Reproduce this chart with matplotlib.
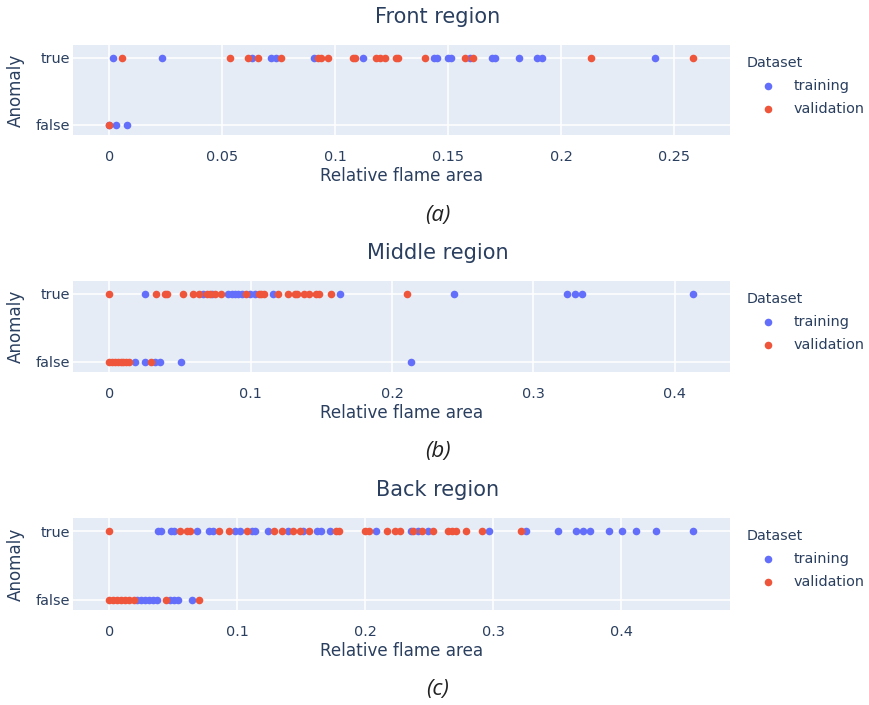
import numpy as np
import matplotlib.pyplot as plt
from matplotlib.ticker import FuncFormatter

plt.rcParams['font.family'] = ['DejaVu Sans']

# Front region (a)
a_train_true = [0.0015, 0.0232, 0.063, 0.0715, 0.0736, 0.0904, 0.1121, 0.1438, 0.1451, 0.15,
                0.1512, 0.1596, 0.1692, 0.1707, 0.1814, 0.1891, 0.1913, 0.2416]
a_train_false = [0.0, 0.003, 0.0077]
a_val_true = [0.0058, 0.0535, 0.0615, 0.066, 0.076, 0.0925, 0.0935, 0.097, 0.1077, 0.1087,
              0.1179, 0.1198, 0.122, 0.1269, 0.1279, 0.1396, 0.1574, 0.1608, 0.2133, 0.2584]
a_val_false = [0.0]

# Middle region (b)
b_train_true = [0.0252, 0.0665, 0.0724, 0.0841, 0.0865, 0.0888, 0.0912, 0.0936, 0.0994, 0.103,
                0.1159, 0.1633, 0.2436, 0.324, 0.3291, 0.3343, 0.4127]
b_train_false = [0.018, 0.0252, 0.0323, 0.0358, 0.0507, 0.2134]
b_val_true = [0.0, 0.0332, 0.0394, 0.0408, 0.0521, 0.059, 0.0634, 0.0689, 0.0712, 0.075,
              0.0787, 0.0966, 0.1058, 0.1072, 0.1095, 0.119, 0.1265, 0.1315, 0.1329, 0.1374,
              0.1409, 0.1461, 0.1484, 0.1565, 0.2102]
b_val_false = [0.0, 0.002, 0.004, 0.006, 0.008, 0.010, 0.012, 0.014, 0.0295]

# Back region (c)
c_train_true = [0.0378, 0.0401, 0.048, 0.0505, 0.0688, 0.0781, 0.0813, 0.0982, 0.1021, 0.1113,
                0.1138, 0.1242, 0.1398, 0.1516, 0.162, 0.1652, 0.1724, 0.2084, 0.2355, 0.2414,
                0.2492, 0.2966, 0.3253, 0.3508, 0.3646, 0.3703, 0.3755, 0.3901, 0.4005, 0.4112,
                0.4268, 0.4562]
c_train_false = [0.0214, 0.025, 0.028, 0.031, 0.034, 0.037, 0.0474, 0.0508, 0.0539, 0.0643]
c_val_true = [0.0, 0.0552, 0.0609, 0.063, 0.0854, 0.0938, 0.1073, 0.1287, 0.1352, 0.1432,
              0.149, 0.1563, 0.1769, 0.1795, 0.1998, 0.2029, 0.2167, 0.2232, 0.2271, 0.2375,
              0.2441, 0.2527, 0.2648, 0.2675, 0.2706, 0.2787, 0.2909, 0.3214]
c_val_false = [0.0, 0.003, 0.006, 0.009, 0.012, 0.015, 0.019, 0.044, 0.07]

titles = ['Front region', 'Middle region', 'Back region']
captions = ['(a)', '(b)', '(c)']
xlims = [(-0.016, 0.2746), (-0.0257, 0.439), (-0.0284, 0.485)]
xticks = [[0, 0.05, 0.1, 0.15, 0.2, 0.25], [0, 0.1, 0.2, 0.3, 0.4], [0, 0.1, 0.2, 0.3, 0.4]]
panels = [
    (a_train_true, a_train_false, a_val_true, a_val_false),
    (b_train_true, b_train_false, b_val_true, b_val_false),
    (c_train_true, c_train_false, c_val_true, c_val_false),
]

blue = '#636EFA'
red = '#EF553B'
txt = '#2a3f5f'

W, H = 870, 705
fig = plt.figure(figsize=(W / 100, H / 100), dpi=100)

# plot area pixel boxes (top, bottom)
boxes = [(45, 135), (281, 372), (518, 610)]
left_px, right_px = 73, 730
ms = 30

for i, (tt, tf, vt, vf) in enumerate(panels):
    top, bot = boxes[i]
    ax = fig.add_axes([left_px / W, 1 - bot / H, (right_px - left_px) / W, (bot - top) / H])
    ax.set_facecolor('#E5ECF6')
    for s in ax.spines.values():
        s.set_visible(False)
    ax.scatter(tt, np.ones(len(tt)), s=ms, color=blue, label='training', zorder=3, linewidths=0)
    ax.scatter(tf, np.zeros(len(tf)), s=ms, color=blue, zorder=3, linewidths=0)
    ax.scatter(vt, np.ones(len(vt)), s=ms, color=red, label='validation', zorder=4, linewidths=0)
    ax.scatter(vf, np.zeros(len(vf)), s=ms, color=red, zorder=4, linewidths=0)
    ax.set_xlim(*xlims[i])
    ax.set_ylim(-0.15, 1.19)
    ax.set_xticks(xticks[i])
    ax.xaxis.set_major_formatter(FuncFormatter(lambda v, p: '%g' % v))
    ax.set_yticks([0, 1])
    ax.set_yticklabels(['false', 'true'])
    ax.tick_params(length=0, labelsize=10.4, labelcolor=txt)
    ax.tick_params(axis='x', pad=11)
    ax.tick_params(axis='y', pad=2)
    ax.grid(True, color='white', linewidth=1.1)
    ax.set_axisbelow(True)

    # titles and axis labels
    fig.text(438 / W, 1 - (top - 28) / H, titles[i],
             ha='center', va='center', fontsize=15, color=txt)
    fig.text(402 / W, 1 - (bot + 41) / H, 'Relative flame area', ha='center', va='center',
             fontsize=12.1, color=txt)
    fig.text(16 / W, 1 - (top + bot) / 2 / H, 'Anomaly', ha='center', va='center',
             rotation=90, fontsize=12.1, color=txt)
    fig.text(438 / W, 1 - (bot + 80) / H, captions[i], ha='center', va='center',
             fontsize=16, style='italic', color='#222222', family='Open Sans')

    leg = ax.legend(title='Dataset', loc='upper left',
                    bbox_to_anchor=(747 / W, 1 - (top + 11) / H), bbox_transform=fig.transFigure,
                    frameon=False, fontsize=10.4, title_fontsize=10.4, handlelength=2.9,
                    handletextpad=0.3, borderpad=0, borderaxespad=0, labelspacing=0.62)
    leg._legend_box.align = 'left'
    for t in leg.get_texts():
        t.set_color(txt)
    leg.get_title().set_color(txt)

plt.savefig('out.png', dpi=100)
